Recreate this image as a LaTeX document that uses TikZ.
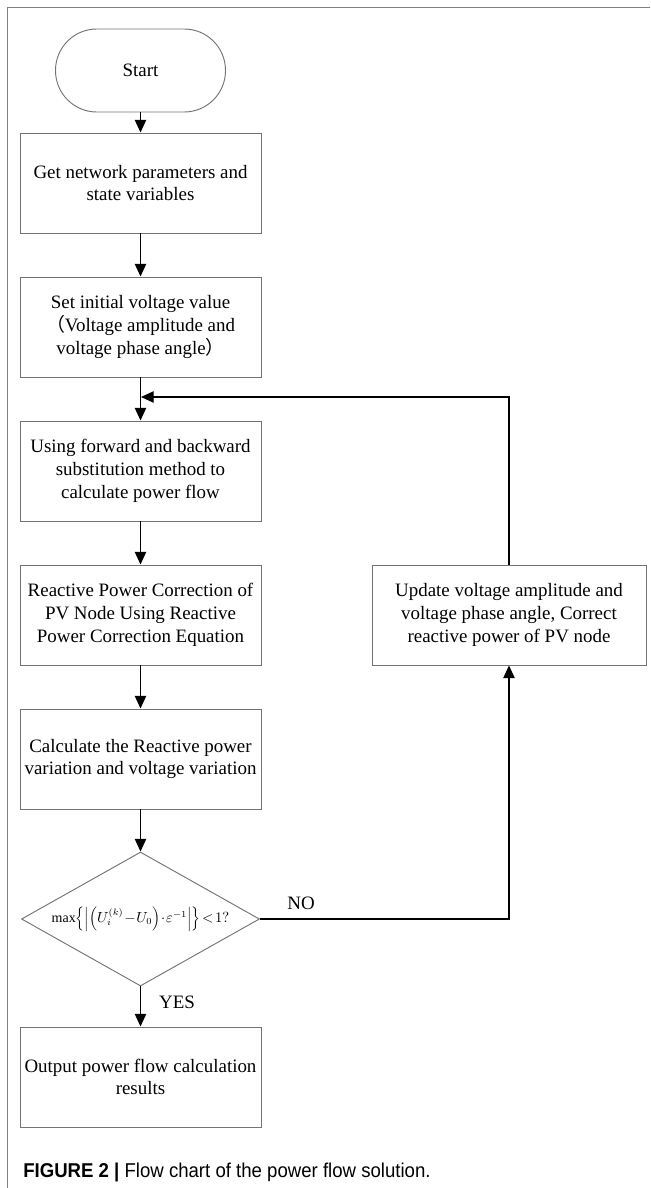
\documentclass[tikz,border=0pt]{standalone}
\usepackage{fontspec}
\setmainfont{Liberation Serif}
\newfontfamily\cjk{Noto Sans CJK SC}
\newfontfamily\capfont[FakeStretch=0.93]{Liberation Sans}
\usetikzlibrary{shapes.geometric,arrows.meta}

\begin{document}
\begin{tikzpicture}[x=0.75pt,y=-0.75pt,
  every node/.style={font=\fontsize{14.2}{17}\selectfont},
  procbox/.style={draw=black!55, line width=0.7pt, align=center,
    minimum width=180.75pt, minimum height=75pt, inner xsep=2pt},
  terminal/.style={draw=black!55, line width=0.7pt, rounded corners=31pt,
    minimum width=127.5pt, minimum height=62.25pt},
  decision/.style={draw=black!55, line width=0.7pt, diamond, aspect=1.776,
    minimum width=178.5pt, minimum height=100.5pt, inner sep=0pt},
  flow/.style={-{Triangle[length=9.5pt,width=8.5pt]}, line width=1pt, black}]

\useasboundingbox (0,0) rectangle (650,1188);
\draw[black!50, line width=0.8pt] (7.5,1188) -- (7.5,7.5) -- (650,7.5);

\node[terminal] (start) at (140.5,70.5) {Start};
\node[procbox] (params) at (140.5,183) {Get network parameters and\\state variables};
\node[procbox] (init) at (140.5,327) {Set initial voltage value\\{\cjk （}Voltage amplitude and\\voltage phase angle{\cjk ）}};
\node[procbox] (bfs) at (140.5,471) {Using forward and backward\\substitution method to\\calculate power flow};
\node[procbox] (pvcorr) at (140.5,615) {Reactive Power Correction of\\PV Node Using Reactive\\Power Correction Equation};
\node[procbox] (vary) at (140.5,759) {Calculate the Reactive power\\variation and voltage variation};
\node[decision, font=\fontsize{10.5}{13}\selectfont] (check) at (140.5,919)
  {\medmuskip=1mu\thickmuskip=2mu$\max\Bigl\{\Bigl|\Bigl(U_i^{(k)}-U_0\Bigr)\cdot\varepsilon^{-1}\Bigr|\Bigr\}<1?$};
\node[procbox] (output) at (140.5,1077) {Output power flow calculation\\results};
\node[procbox, minimum width=205.5pt] (update) at (509,615) {Update voltage amplitude and\\voltage phase angle, Correct\\reactive power of PV node};

\node (no) at (301,903) {NO};
\node (yes) at (177,1002) {YES};

\coordinate (loopin) at (141,397);

\draw[flow] (start) -- (params);
\draw[flow] (params) -- (init);
\draw[flow] (init) -- (bfs);
\draw[flow] (bfs) -- (pvcorr);
\draw[flow] (pvcorr) -- (vary);
\draw[flow] (vary) -- (check);
\draw[flow] (check) -- (output);
\draw[flow] (check.east) -| (update.south);
\draw[flow] (update.north) |- (loopin);

\node[anchor=west, inner sep=0pt, font=\capfont\fontsize{15}{18}\selectfont] (caption) at (23,1172)
  {\textbf{FIGURE 2 |} Flow chart of the power flow solution.};

\end{tikzpicture}
\end{document}
